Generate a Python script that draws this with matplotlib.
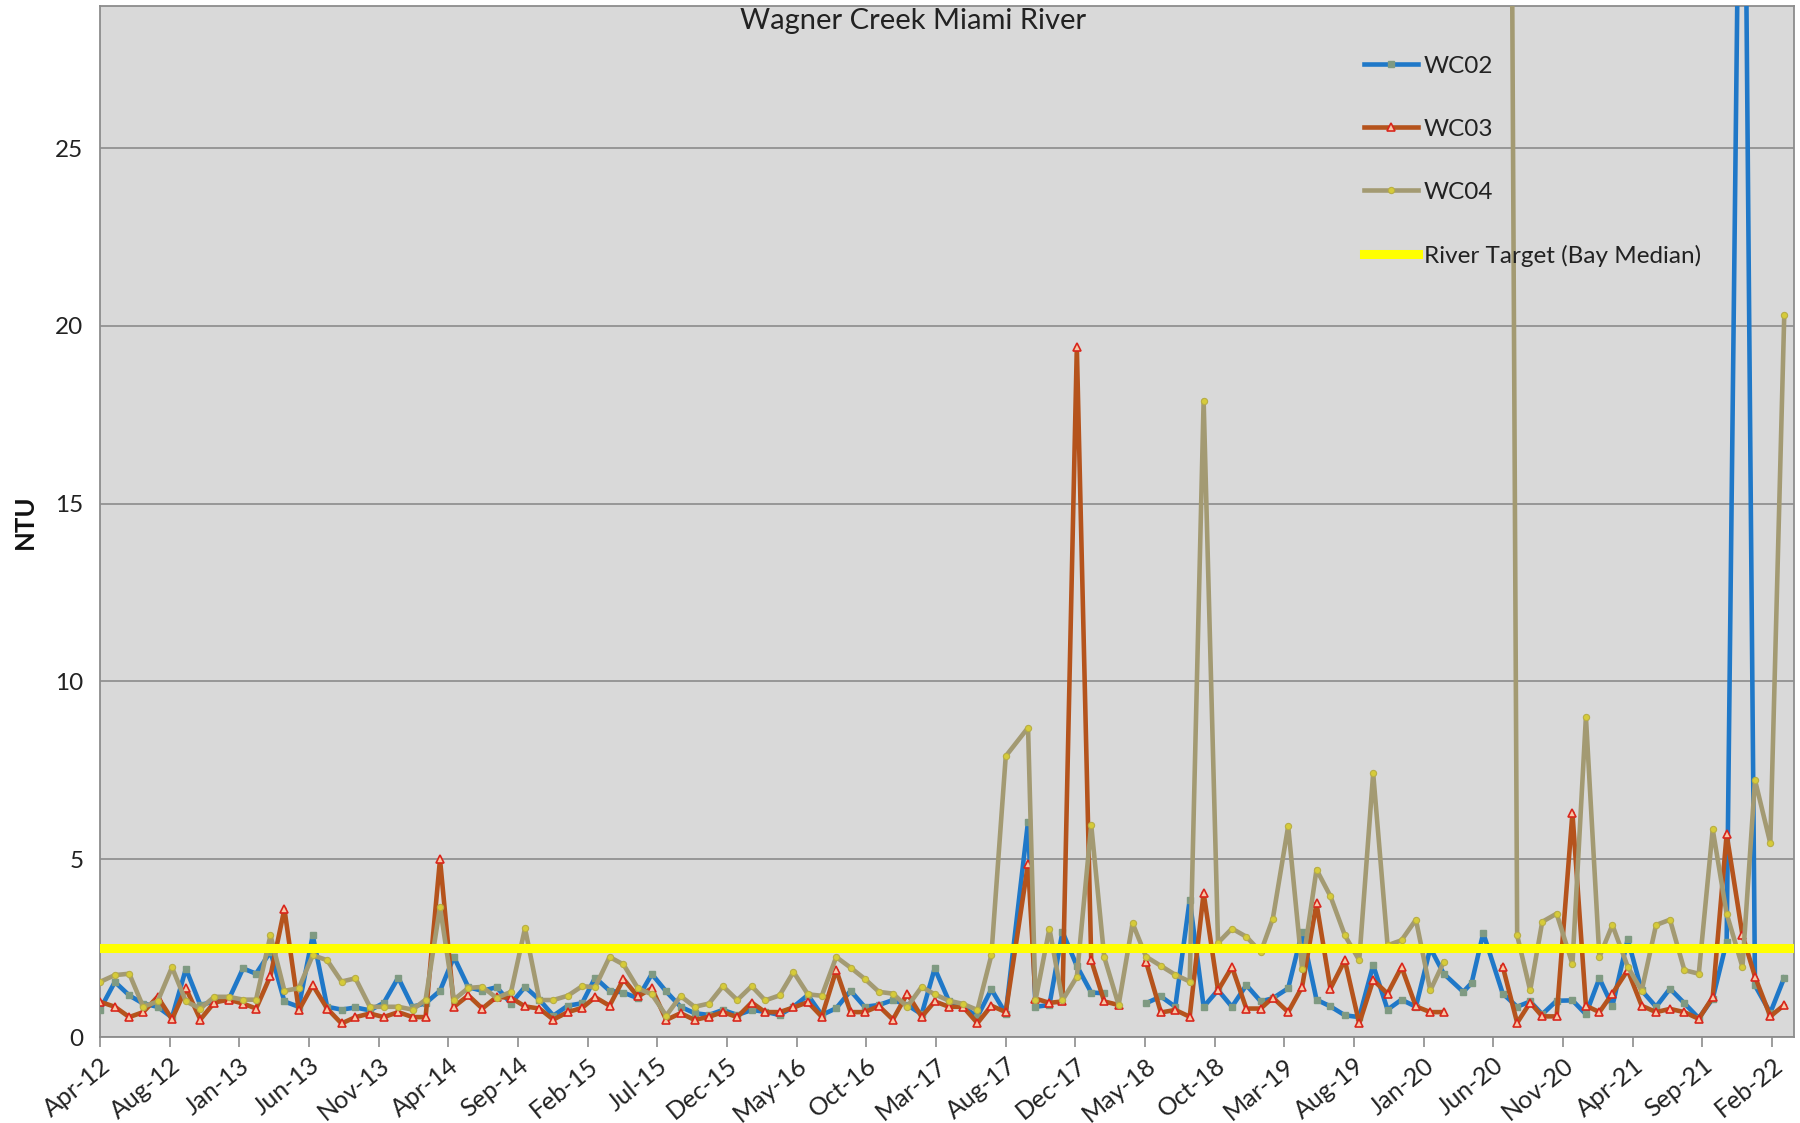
import numpy as np
import matplotlib
matplotlib.use("Agg")
import matplotlib.pyplot as plt

# ---------------- data ----------------
dates = [
    "2012-04-01", "2012-05-03", "2012-06-03", "2012-07-03", "2012-08-03", "2012-09-03",
    "2012-10-03", "2012-11-03", "2012-12-03", "2013-01-03", "2013-02-03", "2013-03-03",
    "2013-04-03", "2013-05-03", "2013-06-03", "2013-07-03", "2013-08-03", "2013-09-03",
    "2013-10-03", "2013-11-03", "2013-12-03", "2014-01-03", "2014-02-03", "2014-03-03",
    "2014-04-03", "2014-05-03", "2014-06-03", "2014-07-03", "2014-08-03", "2014-09-03",
    "2014-10-03", "2014-11-03", "2014-12-03", "2015-01-03", "2015-02-03", "2015-03-03",
    "2015-04-03", "2015-05-03", "2015-06-03", "2015-07-03", "2015-08-03", "2015-09-03",
    "2015-10-03", "2015-11-03", "2015-12-03", "2016-01-03", "2016-02-03", "2016-03-03",
    "2016-04-03", "2016-05-03", "2016-06-03", "2016-07-03", "2016-08-03", "2016-09-03",
    "2016-10-03", "2016-11-03", "2016-12-03", "2017-01-03", "2017-02-03", "2017-03-03",
    "2017-04-03", "2017-05-03", "2017-06-03", "2017-07-03", "2017-08-03", "2017-09-20",
    "2017-10-06", "2017-11-05", "2017-12-03", "2018-01-03", "2018-02-03", "2018-03-03",
    "2018-04-03", "2018-05-03", "2018-06-01", "2018-07-03", "2018-08-03", "2018-09-03",
    "2018-10-03", "2018-11-03", "2018-12-03", "2019-01-03", "2019-02-03", "2019-03-01",
    "2019-04-03", "2019-05-03", "2019-06-03", "2019-07-03", "2019-08-03", "2019-09-03",
    "2019-10-03", "2019-11-03", "2019-12-03", "2020-01-03", "2020-02-03", "2020-03-03",
    "2020-04-14", "2020-05-02", "2020-05-27", "2020-07-08", "2020-08-08", "2020-09-05",
    "2020-10-01", "2020-11-01", "2020-12-05", "2021-01-03", "2021-02-01", "2021-03-01",
    "2021-04-03", "2021-05-03", "2021-06-03", "2021-07-03", "2021-08-03", "2021-09-03",
    "2021-10-03", "2021-11-02", "2021-12-06", "2022-01-02", "2022-02-04", "2022-03-06",
]

nan = np.nan

wc02 = [
    0.77, 1.55, 1.17, 0.94, 0.85, 0.55, 1.92, 0.90, 1.00, 1.05,
    1.93, 1.78, 2.40, 1.00, 0.85, 2.86, 0.85, 0.77, 0.83, 0.75,
    0.96, 1.67, 0.85, 0.95, 1.30, 2.25, 1.40, 1.30, 1.40, 0.94,
    1.41, 1.05, 0.60, 0.88, 0.95, 1.67, 1.30, 1.25, 1.09, 1.77,
    1.28, 0.85, 0.67, 0.62, 0.76, 0.62, 0.76, 0.71, 0.62, 0.85,
    1.18, 0.62, 0.81, 1.30, 0.85, 0.90, 1.04, 0.90, 0.64, 1.93,
    1.00, 0.85, 0.57, 1.34, 0.66, 6.06, 0.85, 0.90, 2.96, 2.00,
    1.25, 1.23, nan, nan, 0.95, 1.14, 0.85, 3.86, 0.85, 1.32,
    0.85, 1.46, 1.00, 1.09, 1.37, 2.95, 1.05, 0.86, 0.61, 0.56,
    2.02, 0.77, 1.05, 0.85, 2.50, 1.78, 1.27, 1.52, 2.92, 1.22,
    0.85, 1.00, 0.64, 1.02, 1.03, 0.64, 1.65, 0.87, 2.75, 1.31,
    0.85, 1.36, 0.95, 0.53, 1.08, 2.68, 42.0, 1.45, 0.68, 1.67,
]

wc03 = [
    0.99, 0.85, 0.56, 0.70, 1.13, 0.50, 1.37, 0.49, 0.97, 1.05,
    0.94, 0.80, 1.72, 3.60, 0.75, 1.46, 0.80, 0.38, 0.56, 0.66,
    0.56, 0.70, 0.56, 0.56, 5.00, 0.85, 1.17, 0.80, 1.13, 1.10,
    0.86, 0.80, 0.49, 0.70, 0.82, 1.12, 0.88, 1.63, 1.14, 1.37,
    0.48, 0.67, 0.48, 0.57, 0.70, 0.56, 0.97, 0.70, 0.70, 0.83,
    0.98, 0.57, 1.88, 0.70, 0.70, 0.87, 0.49, 1.22, 0.57, 1.00,
    0.85, 0.85, 0.39, 0.88, 0.70, 4.88, 1.08, 0.96, 1.00, 19.4,
    2.16, 1.00, 0.90, nan, 2.12, 0.69, 0.76, 0.57, 4.05, 1.31,
    1.97, 0.80, 0.80, 1.11, 0.70, 1.41, 3.76, 1.36, 2.16, 0.38,
    1.60, 1.22, 1.97, 0.86, 0.70, 0.70, nan, nan, nan, 1.98,
    0.40, 0.97, 0.58, 0.58, 6.30, 0.88, 0.70, 1.22, 1.88, 0.88,
    0.70, 0.79, 0.70, 0.51, 1.12, 5.70, 2.87, 1.70, 0.58, 0.90,
]

wc04 = [
    1.55, 1.74, 1.78, 0.85, 1.00, 1.96, 1.00, 0.80, 1.13, 1.13,
    1.05, 1.05, 2.86, 1.30, 1.37, 2.30, 2.16, 1.56, 1.65, 0.85,
    0.85, 0.85, 0.77, 1.05, 3.66, 1.05, 1.38, 1.41, 1.10, 1.27,
    3.06, 1.04, 1.04, 1.16, 1.43, 1.40, 2.25, 2.04, 1.37, 1.20,
    0.60, 1.15, 0.85, 0.94, 1.43, 1.04, 1.43, 1.03, 1.17, 1.83,
    1.20, 1.16, 2.25, 1.95, 1.64, 1.27, 1.22, 0.85, 1.41, 1.20,
    1.02, 0.93, 0.76, 2.30, 7.90, 8.70, 1.03, 3.05, 1.03, 1.69,
    5.96, 2.25, 0.90, 3.20, 2.26, 2.00, 1.75, 1.56, 17.9, 2.65,
    3.05, 2.82, 2.39, 3.33, 5.93, 1.92, 4.71, 3.96, 2.86, 2.16,
    7.42, 2.58, 2.72, 3.30, 1.31, 2.11, nan, nan, nan, 80.0,
    2.86, 1.31, 3.24, 3.47, 2.05, 9.00, 2.25, 3.15, 1.98, 1.30,
    3.15, 3.30, 1.88, 1.78, 5.84, 3.47, 1.97, 7.23, 5.45, 20.3,
]

river_target = 2.5

tick_labels = [
    "Apr-12", "Aug-12", "Jan-13", "Jun-13", "Nov-13", "Apr-14", "Sep-14", "Feb-15",
    "Jul-15", "Dec-15", "May-16", "Oct-16", "Mar-17", "Aug-17", "Dec-17", "May-18",
    "Oct-18", "Mar-19", "Aug-19", "Jan-20", "Jun-20", "Nov-20", "Apr-21", "Sep-21",
    "Feb-22",
]
tick_step_days = 150
axis_start = "2012-04-01"
axis_end = "2022-03-27"

# ---------------- style ----------------
plt.rcParams["font.family"] = ["Lato", "DejaVu Sans"]

W, H = 1800, 1123
fig = plt.figure(figsize=(W / 100, H / 100), dpi=100)
fig.patch.set_facecolor("white")
ax = fig.add_axes([100 / W, 1 - 1037 / H, 1694 / W, 1031 / H])
ax.set_facecolor("#D9D9D9")

x = np.array(dates, dtype="datetime64[D]")

ax.plot(x, np.array(wc02, float), color="#1F78C8", lw=3.3, marker="s", ms=5,
        mfc="#7F9A82", mec="#7F9A82", label="WC02", zorder=3)
ax.plot(x, np.array(wc03, float), color="#B5531C", lw=3.3, marker="^", ms=5.5,
        mfc="#F6C9A8", mec="#D9261C", mew=1.2, label="WC03", zorder=4)
ax.plot(x, np.array(wc04, float), color="#A39A72", lw=3.3, marker="o", ms=4.5,
        mfc="#D6CB3A", mec="#B8AE45", mew=0.8, label="WC04", zorder=5)
ax.axhline(river_target, color="#FFFF00", lw=6.5, label="River Target (Bay Median)",
           zorder=6)

x0 = np.datetime64(axis_start)
x1 = np.datetime64(axis_end)
ax.set_xlim(x0, x1)
ax.set_ylim(0, 29)

ticks = [x0 + np.timedelta64(tick_step_days * k, "D") for k in range(len(tick_labels))]
ax.set_xticks(ticks)
ax.set_xticklabels(tick_labels, rotation=39, ha="right", va="top",
                   rotation_mode="anchor", fontsize=18, color="#222222")
ax.tick_params(axis="x", direction="out", length=7, width=1.2, color="#8C8C8C", pad=5)

ax.set_yticks([0, 5, 10, 15, 20, 25])
ax.tick_params(axis="y", length=0, pad=12, labelsize=17.5, labelcolor="#222222")
ax.yaxis.grid(True, color="#8C8C8C", lw=1.2)
ax.set_axisbelow(True)

for s in ax.spines.values():
    s.set_color("#8C8C8C")
    s.set_linewidth(1.3)

fig.text(25 / W, 1 - 522 / H, "NTU", rotation=90, ha="center", va="center",
         fontsize=18.5, fontweight="bold", color="#111111")
fig.text(913 / W, 1 - 21 / H, "Wagner Creek Miami River", ha="center", va="center",
         fontsize=21, color="#222222")

leg = ax.legend(loc="upper left", bbox_to_anchor=(0.746, 0.952), frameon=False,
                fontsize=17.5, labelspacing=1.73, handlelength=2.24, handletextpad=0.23,
                borderpad=0, borderaxespad=0, numpoints=1)
for t in leg.get_texts():
    t.set_color("#222222")

fig.savefig("out.png", dpi=100, facecolor="white")
